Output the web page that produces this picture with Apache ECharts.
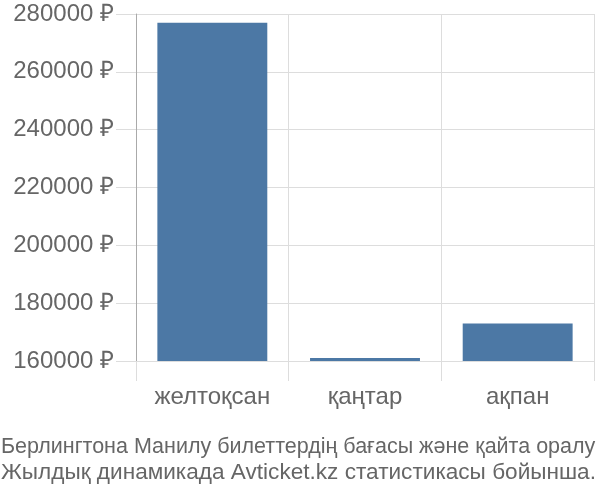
<!DOCTYPE html>
<html>
<head>
<meta charset="utf-8">
<script src="https://cdn.jsdelivr.net/npm/echarts@6/dist/echarts.min.js"></script>
<style>
  html, body { margin: 0; padding: 0; background: #fff; }
  #main { width: 600px; height: 500px; }
</style>
</head>
<body>
<div id="main"></div>
<script>
// данные графика
var months = ['желтоқсан', 'қаңтар', 'ақпан'];
var prices = [277000, 161000, 173000];
var yTicks = [160000, 180000, 200000, 220000, 240000, 260000, 280000];
var captionLines = [
    'Берлингтона Манилу билеттердің бағасы және қайта оралу',
    'Жылдық динамикада Avticket.kz статистикасы бойынша.'
];

var myChart = echarts.init(document.getElementById('main'));

// подпись внизу — каждая строка отдельно, чтобы обе были на всю ширину
function captionTitle(text, top, size) {
    return {
        text: text,
        left: 1,
        top: top,
        padding: 0,
        textStyle: {
            color: '#666',
            fontSize: size,
            fontWeight: 'normal',
            fontFamily: 'Liberation Sans'
        }
    };
}

var option = {
    animation: false,
    textStyle: { fontFamily: 'Liberation Sans' },
    title: [
        captionTitle(captionLines[0], 436, 21.5),
        captionTitle(captionLines[1], 461, 22.6)
    ],
    grid: {
        left: 136,
        right: 6,
        top: 14,
        bottom: 139
    },
    xAxis: {
        type: 'category',
        data: months,
        axisLine: { show: false },
        axisTick: {
            show: true,
            length: 20,
            lineStyle: { color: '#ddd' }
        },
        splitLine: {
            show: true,
            lineStyle: { color: '#ddd' }
        },
        axisLabel: {
            color: '#666',
            fontSize: 24,
            margin: 24
        }
    },
    yAxis: {
        type: 'value',
        min: yTicks[0],
        max: yTicks[yTicks.length - 1],
        interval: 20000,
        axisLine: {
            show: true,
            lineStyle: { color: '#aaa' }
        },
        axisTick: {
            show: true,
            length: 20,
            lineStyle: { color: '#ddd' }
        },
        splitLine: {
            lineStyle: { color: '#ddd' }
        },
        axisLabel: {
            color: '#666',
            fontSize: 24,
            margin: 22,
            formatter: function (v) { return v + ' ₽'; }
        }
    },
    series: [{
        type: 'bar',
        data: prices,
        barWidth: '72%',
        itemStyle: { color: '#4c78a5' }
    }]
};

myChart.setOption(option, true);
</script>
</body>
</html>
